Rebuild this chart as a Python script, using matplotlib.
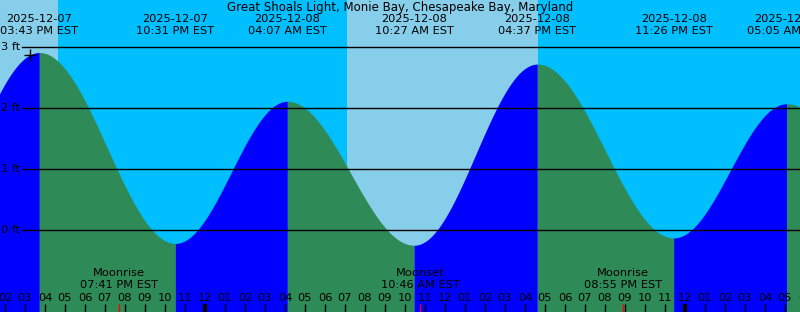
import numpy as np
import pandas as pd
import matplotlib
matplotlib.use("Agg")
import matplotlib.pyplot as plt

title = "Great Shoals Light, Monie Bay, Chesapeake Bay, Maryland"

# tide events (high / low)
tide_times = ["2025-12-07 09:20", "2025-12-07 15:43", "2025-12-07 22:31", "2025-12-08 04:07",
              "2025-12-08 10:27", "2025-12-08 16:37", "2025-12-08 23:26", "2025-12-09 05:05",
              "2025-12-09 11:35"]
tide_heights = [-0.15, 2.91, -0.22, 2.11, -0.25, 2.72, -0.13, 2.07, -0.20]
tide_dates = ["", "2025-12-07", "2025-12-07", "2025-12-08", "2025-12-08", "2025-12-08",
              "2025-12-08", "2025-12-09", ""]
tide_labels = ["", "03:43 PM EST", "10:31 PM EST", "04:07 AM EST", "10:27 AM EST",
               "04:37 PM EST", "11:26 PM EST", "05:05 AM EST", ""]

# moon events
moon_times = ["2025-12-07 19:41", "2025-12-08 10:46", "2025-12-08 20:55"]
moon_names = ["Moonrise", "Moonset", "Moonrise"]
moon_labels = ["07:41 PM EST", "10:46 AM EST", "08:55 PM EST"]

# daylight periods
day_start = ["2025-12-07 12:00", "2025-12-08 07:06"]
day_end = ["2025-12-07 16:39", "2025-12-08 16:38"]

now_time = "2025-12-07 15:15"
levels = [0, 1, 2, 3]

t0 = pd.Timestamp("2025-12-07 15:00")


def hrs(ts):
    return (pd.to_datetime(ts) - t0) / pd.Timedelta(hours=1)


th = np.array(hrs(tide_times))
tz = np.array(tide_heights)

# pixel geometry: 20 px per hour, 61 px per foot, 0 ft at y=230 px
x0, x1 = -1.25, 38.75
y0, y1 = -(312 - 230) / 61, 230 / 61


def py(p):
    return (230 - p) / 61


fig = plt.figure(figsize=(8, 3.12), dpi=100)
ax = fig.add_axes([0, 0, 1, 1])
ax.set_xlim(x0, x1)
ax.set_ylim(y0, y1)
ax.axis("off")

ax.axvspan(x0, x1, color="#00BFFF", lw=0, zorder=0)
for a, b in zip(hrs(day_start), hrs(day_end)):
    ax.axvspan(a, b, color="#87CEEB", lw=0, zorder=0)


def tide_at(h):
    i = np.searchsorted(th, h) - 1
    f = (h - th[i]) / (th[i + 1] - th[i])
    return tz[i] + (tz[i + 1] - tz[i]) * (1 - np.cos(np.pi * f)) / 2


for i in range(len(th) - 1):
    a, b = th[i], th[i + 1]
    if b < x0 or a > x1:
        continue
    hh = np.linspace(a, b, 200)
    hh = hh[(hh > a) & (hh < b)]
    hh = np.concatenate([[a], hh, [b - 1e-6]])
    zz = tide_at(hh)
    col = "#0000FF" if tz[i + 1] > tz[i] else "#2E8B57"
    ax.fill_between(hh, y0, zz, color=col, lw=0, zorder=1)

fs = 8.2
for lv in levels:
    ax.plot([x0 + 22 / 20, x1], [lv, lv], color="black", lw=1, zorder=3)
    ax.text(x0 + 20 / 20, lv, f"{lv} ft", ha="right", va="center", fontsize=fs, zorder=4)

ax.text((x0 + x1) / 2, py(8), title, ha="center", va="center", fontsize=fs + 0.3)
for h, d, l in zip(th, tide_dates, tide_labels):
    if not d:
        continue
    ax.text(h, py(19), d, ha="center", va="center", fontsize=fs)
    ax.text(h, py(31), l, ha="center", va="center", fontsize=fs)

# hour ticks
for k in range(-1, 40):
    lab = f"{(14 + k) % 12 + 1:02d}"
    ax.text(k, py(298), lab, ha="center", va="center", fontsize=fs, zorder=4)
    midnight = (15 + k) % 24 == 0
    ax.plot([k, k], [py(304), y0], color="black", lw=3 if midnight else 1,
            solid_capstyle="butt", zorder=4)

for h, n, l in zip(hrs(moon_times), moon_names, moon_labels):
    ax.text(h, py(273.5), n, ha="center", va="center", fontsize=fs, zorder=4)
    ax.text(h, py(285.5), l, ha="center", va="center", fontsize=fs, zorder=4)
    ax.plot([h, h], [py(304), y0], color="red", lw=1, solid_capstyle="butt", zorder=4)

nh = hrs(now_time)
ax.plot([nh], [tide_at(nh)], marker="+", color="black", ms=9, mew=1, zorder=5)

fig.savefig("out.png", dpi=100)
